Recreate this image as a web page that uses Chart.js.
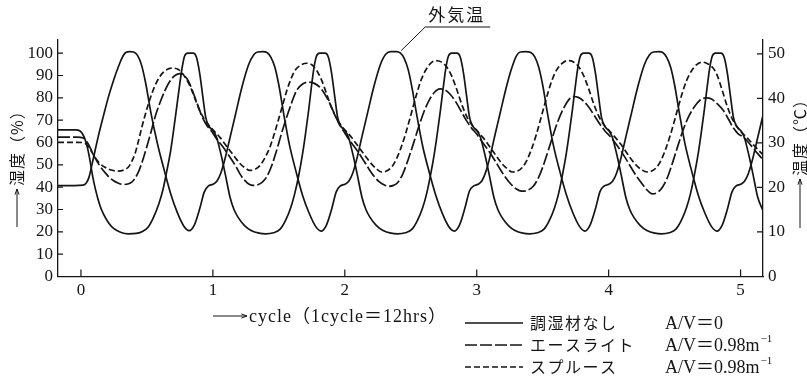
<!DOCTYPE html>
<html lang="ja">
<head>
<meta charset="utf-8">
<title>調湿材の効果</title>
<script src="https://cdn.jsdelivr.net/npm/chart.js@4.4.1/dist/chart.umd.min.js"></script>
<style>
  html, body { margin: 0; padding: 0; background: #fff; }
  #contenedor { width: 807px; height: 382px; }
</style>
</head>
<body>
<div id="contenedor"><canvas id="grafico" width="807" height="382"></canvas></div>
<script>
// Datos: [ciclo, valor]
// 外気温 (eje derecho, ℃)
const tempExterior = [
  [-0.174, 20.4], [-0.05, 20.4], [0.017, 20.5], [0.04, 21.0], [0.06, 22.2], [0.085, 25.3], [0.13, 31.3], [0.17, 36.0],
  [0.21, 40.5], [0.25, 44.3], [0.28, 46.8], [0.31, 49.0], [0.34, 50.3], [0.37, 50.5], [0.40, 50.4], [0.43, 49.6],
  [0.46, 47.4], [0.49, 43.5], [0.53, 36.8], [0.58, 29.8], [0.63, 24.0], [0.68, 18.6], [0.73, 14.4], [0.78, 11.3],
  [0.82, 10.3], [0.86, 11.6], [0.90, 15.2], [0.935, 19.0], [0.965, 20.3], [1.00, 20.7],
  [1.03, 21.4], [1.06, 23.2], [1.09, 26.2], [1.13, 31.2], [1.17, 36.2], [1.22, 42.5], [1.27, 47.5], [1.31, 49.8],
  [1.34, 50.4], [1.38, 50.5], [1.41, 50.3], [1.44, 49.2], [1.47, 47.0], [1.50, 43.0], [1.54, 36.0], [1.58, 29.6],
  [1.63, 23.6], [1.68, 18.2], [1.73, 14.2], [1.78, 11.2], [1.82, 10.2], [1.86, 11.5], [1.90, 15.1], [1.935, 19.0],
  [1.965, 20.3], [2.00, 20.7],
  [2.03, 21.4], [2.06, 23.2], [2.09, 26.3], [2.13, 31.4], [2.17, 36.4], [2.22, 42.6], [2.27, 47.6], [2.31, 49.9],
  [2.35, 50.5], [2.39, 50.5], [2.42, 50.2], [2.45, 49.0], [2.48, 46.5], [2.51, 42.3], [2.55, 35.5], [2.59, 29.3],
  [2.64, 23.4], [2.69, 18.2], [2.74, 14.1], [2.79, 11.1], [2.83, 10.2], [2.87, 11.6], [2.91, 15.3], [2.945, 19.2],
  [2.975, 20.3], [3.01, 20.7],
  [3.04, 21.5], [3.07, 23.6], [3.10, 26.8], [3.14, 32.0], [3.18, 37.0], [3.22, 42.0], [3.26, 46.3], [3.30, 49.5],
  [3.33, 50.4], [3.37, 50.5], [3.41, 50.3], [3.44, 49.3], [3.47, 47.0], [3.50, 43.0], [3.54, 36.0], [3.58, 29.6],
  [3.63, 23.6], [3.68, 18.3], [3.73, 14.2], [3.78, 11.2], [3.82, 10.2], [3.86, 11.6], [3.90, 15.2], [3.935, 19.1],
  [3.965, 20.3], [4.00, 20.7],
  [4.03, 21.4], [4.06, 23.2], [4.09, 26.2], [4.13, 31.3], [4.17, 36.3], [4.22, 42.5], [4.27, 47.5], [4.31, 49.8],
  [4.34, 50.4], [4.38, 50.5], [4.41, 50.3], [4.44, 49.2], [4.47, 47.0], [4.50, 43.0], [4.54, 36.0], [4.58, 29.6],
  [4.63, 23.6], [4.68, 18.2], [4.73, 14.2], [4.78, 11.2], [4.82, 10.2], [4.86, 11.5], [4.90, 15.1], [4.935, 19.0],
  [4.965, 20.3], [5.00, 20.7],
  [5.03, 21.4], [5.06, 23.2], [5.09, 26.2], [5.13, 31.2], [5.17, 36.2]
];

// 調湿材なし (humedad %, eje izquierdo)
const humedadSin = [
  [-0.174, 65.7], [-0.04, 65.7], [-0.01, 65.3], [0.01, 64.0], [0.03, 61.5], [0.05, 57.5], [0.07, 51.5], [0.09, 44.5],
  [0.11, 39.0], [0.14, 32.5], [0.17, 28.0], [0.21, 24.0], [0.25, 21.4], [0.30, 19.8], [0.36, 19.1], [0.42, 19.3],
  [0.47, 20.3], [0.51, 22.2], [0.55, 26.5], [0.59, 32.5], [0.62, 38.5], [0.65, 47.0], [0.68, 56.4], [0.70, 64.5],
  [0.725, 75.5], [0.745, 84.5], [0.765, 92.8], [0.785, 98.6], [0.81, 100], [0.85, 100], [0.875, 98.3], [0.90, 91.0],
  [0.925, 80.0], [0.945, 71.5], [0.965, 67.8], [0.985, 66.2], [1.005, 65.0], [1.03, 62.0], [1.05, 57.5], [1.07, 52.5],
  [1.095, 45.5], [1.13, 35.5], [1.16, 30.0], [1.19, 26.6], [1.24, 22.8], [1.29, 20.6], [1.35, 19.4], [1.40, 19.1],
  [1.46, 19.6], [1.51, 21.2], [1.55, 25.0], [1.59, 30.8], [1.62, 37.0], [1.65, 45.0], [1.68, 55.0], [1.70, 63.0],
  [1.725, 74.0], [1.745, 84.0], [1.765, 93.0], [1.785, 98.6], [1.81, 100], [1.85, 100], [1.875, 98.3], [1.90, 91.0],
  [1.925, 80.0], [1.945, 71.5], [1.965, 67.8], [1.985, 66.2], [2.005, 65.0], [2.03, 62.0], [2.05, 57.5], [2.07, 52.5],
  [2.095, 45.5], [2.13, 35.5], [2.16, 30.0], [2.19, 26.6], [2.24, 22.8], [2.29, 20.6], [2.35, 19.4], [2.40, 19.1],
  [2.46, 19.6], [2.51, 21.2], [2.55, 25.0], [2.59, 30.8], [2.62, 37.0], [2.65, 45.5], [2.68, 55.5], [2.70, 63.5],
  [2.725, 74.5], [2.745, 84.0], [2.765, 93.0], [2.785, 98.6], [2.81, 100], [2.85, 100], [2.875, 98.3], [2.90, 91.0],
  [2.925, 80.0], [2.945, 71.5], [2.965, 67.8], [2.985, 66.2], [3.005, 65.0], [3.03, 62.0], [3.05, 57.5], [3.07, 52.5],
  [3.095, 45.5], [3.13, 35.5], [3.16, 30.0], [3.19, 26.6], [3.24, 22.8], [3.29, 20.6], [3.35, 19.4], [3.40, 19.1],
  [3.46, 19.6], [3.51, 21.2], [3.55, 25.0], [3.59, 30.8], [3.62, 37.0], [3.65, 45.5], [3.68, 55.5], [3.70, 63.5],
  [3.725, 74.5], [3.745, 84.0], [3.765, 93.0], [3.785, 98.6], [3.81, 100], [3.85, 100], [3.875, 98.3], [3.90, 91.0],
  [3.925, 80.0], [3.945, 71.5], [3.965, 67.8], [3.985, 66.2], [4.005, 65.0], [4.03, 62.0], [4.05, 57.5], [4.07, 52.5],
  [4.095, 45.5], [4.13, 35.5], [4.16, 30.0], [4.19, 26.6], [4.24, 22.8], [4.29, 20.6], [4.35, 19.4], [4.40, 19.1],
  [4.46, 19.6], [4.51, 21.2], [4.55, 25.0], [4.59, 30.8], [4.62, 37.0], [4.65, 45.5], [4.68, 55.5], [4.70, 63.5],
  [4.725, 74.5], [4.745, 84.0], [4.765, 93.0], [4.785, 98.6], [4.81, 100], [4.85, 100], [4.875, 98.3], [4.90, 91.0],
  [4.925, 80.0], [4.945, 71.5], [4.965, 67.8], [4.985, 66.2], [5.005, 65.0], [5.03, 62.0], [5.05, 57.5], [5.07, 52.5],
  [5.095, 45.5], [5.13, 35.5], [5.17, 29.5]
];

// エースライト A/V=0.98
const humedadAce = [
  [-0.174, 62.4], [-0.03, 62.4], [0.017, 62.0], [0.055, 59.4], [0.08, 56.4], [0.106, 53.2], [0.14, 49.8], [0.182, 46.6],
  [0.215, 44.4], [0.245, 43.0], [0.28, 41.9], [0.32, 41.2], [0.355, 41.4], [0.385, 42.3], [0.41, 44.0], [0.435, 46.7],
  [0.465, 51.5], [0.498, 57.9], [0.53, 64.5], [0.561, 71.3], [0.60, 78.0], [0.637, 83.3], [0.675, 87.5], [0.713, 90.0],
  [0.75, 90.8], [0.785, 89.8], [0.815, 87.5], [0.84, 84.0], [0.865, 80.0], [0.89, 76.0], [0.915, 72.0], [0.95, 68.0],
  [0.99, 65.0], [1.03, 61.5], [1.07, 58.5], [1.10, 56.0], [1.14, 52.5], [1.18, 48.7], [1.21, 45.5], [1.245, 42.8],
  [1.275, 41.3], [1.305, 40.8], [1.34, 41.1], [1.375, 42.3], [1.407, 44.5], [1.445, 49.5], [1.483, 56.4], [1.52, 64.0],
  [1.559, 71.3], [1.60, 78.3], [1.635, 83.3], [1.68, 86.2], [1.723, 87.0], [1.765, 86.6], [1.81, 84.8], [1.85, 81.5],
  [1.888, 77.3], [1.92, 73.0], [1.955, 68.5], [1.99, 65.2],
  [2.03, 61.5], [2.07, 58.3], [2.10, 55.8], [2.14, 52.2], [2.18, 48.4], [2.22, 45.0], [2.26, 42.5], [2.30, 41.0],
  [2.335, 40.4], [2.37, 40.8], [2.40, 42.0], [2.44, 46.0], [2.48, 52.3], [2.52, 59.5], [2.56, 67.0], [2.60, 73.8],
  [2.64, 79.0], [2.68, 82.5], [2.72, 84.0], [2.76, 83.5], [2.80, 81.5], [2.84, 78.3], [2.88, 74.2], [2.92, 70.0],
  [2.96, 66.5], [3.00, 63.8],
  [3.03, 61.2], [3.07, 58.0], [3.10, 55.4], [3.14, 51.7], [3.18, 47.8], [3.22, 44.2], [3.26, 41.3], [3.30, 39.2],
  [3.34, 38.2], [3.38, 38.5], [3.43, 40.5], [3.47, 44.5], [3.50, 48.9], [3.54, 56.0], [3.58, 63.5], [3.62, 70.2],
  [3.66, 75.5], [3.70, 79.3], [3.73, 80.6], [3.77, 80.2], [3.81, 78.5], [3.85, 75.8], [3.89, 72.2], [3.93, 68.5],
  [3.97, 65.3], [4.01, 62.8],
  [4.05, 59.8], [4.09, 56.5], [4.13, 52.8], [4.17, 48.8], [4.21, 45.0], [4.25, 41.8], [4.29, 38.8], [4.33, 37.0],
  [4.37, 37.6], [4.41, 40.2], [4.45, 45.0], [4.49, 52.0], [4.53, 59.5], [4.57, 66.5], [4.61, 72.0], [4.65, 76.0],
  [4.69, 78.8], [4.74, 80.0], [4.78, 79.5], [4.82, 77.5], [4.87, 74.3], [4.91, 70.3], [4.94, 67.0], [4.98, 64.0],
  [5.02, 62.4], [5.06, 60.0], [5.09, 57.9], [5.13, 55.0], [5.17, 52.4]
];

// スプルース A/V=0.98
const humedadSpr = [
  [-0.174, 60.1], [-0.03, 60.1], [0.017, 59.9], [0.05, 58.6], [0.08, 56.0], [0.106, 53.4], [0.14, 50.8], [0.182, 48.9],
  [0.23, 47.7], [0.28, 47.2], [0.33, 47.8], [0.36, 49.0], [0.385, 51.5], [0.41, 55.0], [0.435, 60.5], [0.46, 66.5],
  [0.485, 72.0], [0.51, 77.0], [0.535, 81.5], [0.56, 85.3], [0.59, 88.8], [0.625, 91.5], [0.66, 92.9], [0.70, 93.3],
  [0.735, 92.8], [0.765, 91.3], [0.80, 88.2], [0.83, 84.8], [0.865, 79.5], [0.90, 74.3], [0.94, 70.0], [0.98, 67.0],
  [1.02, 64.5], [1.055, 62.2], [1.09, 59.4], [1.13, 56.3], [1.17, 53.2], [1.205, 50.6], [1.24, 48.8], [1.28, 47.5],
  [1.32, 48.0], [1.357, 49.7], [1.395, 53.2], [1.433, 58.0], [1.465, 63.8], [1.496, 70.0], [1.53, 77.0], [1.56, 83.2],
  [1.59, 88.2], [1.622, 92.2], [1.665, 94.6], [1.71, 95.5], [1.75, 94.8], [1.787, 92.3], [1.825, 87.8], [1.862, 81.8],
  [1.90, 75.5], [1.94, 70.5], [1.98, 67.0],
  [2.02, 64.4], [2.055, 62.0], [2.09, 59.2], [2.13, 56.0], [2.17, 52.8], [2.205, 50.2], [2.24, 48.2], [2.28, 46.8],
  [2.32, 47.3], [2.355, 49.0], [2.39, 52.5], [2.425, 57.5], [2.46, 63.8], [2.49, 70.0], [2.52, 76.5], [2.55, 82.8],
  [2.58, 88.2], [2.615, 92.6], [2.65, 95.4], [2.69, 96.7], [2.73, 96.1], [2.77, 94.0], [2.81, 89.8], [2.85, 83.5],
  [2.89, 76.5], [2.93, 71.0], [2.97, 67.4],
  [3.01, 64.8], [3.045, 62.4], [3.08, 59.7], [3.12, 56.3], [3.16, 53.0], [3.195, 50.3], [3.23, 48.3], [3.27, 46.8],
  [3.31, 47.2], [3.345, 48.8], [3.38, 52.0], [3.415, 57.0], [3.45, 63.2], [3.48, 69.5], [3.51, 76.0], [3.54, 82.3],
  [3.57, 87.8], [3.605, 92.4], [3.645, 95.3], [3.69, 96.7], [3.73, 96.2], [3.77, 94.1], [3.81, 90.0], [3.85, 83.8],
  [3.89, 76.8], [3.93, 71.2], [3.97, 67.5],
  [4.01, 64.9], [4.05, 62.3], [4.09, 59.4], [4.13, 56.0], [4.17, 52.6], [4.21, 49.8], [4.25, 47.8], [4.29, 46.8],
  [4.33, 47.3], [4.365, 49.0], [4.40, 52.4], [4.435, 57.5], [4.47, 63.8], [4.50, 70.0], [4.53, 76.5], [4.56, 82.5],
  [4.59, 87.6], [4.625, 91.8], [4.665, 94.8], [4.71, 96.0], [4.75, 95.3], [4.79, 93.5], [4.82, 90.5], [4.86, 83.5],
  [4.90, 76.0], [4.94, 70.2], [4.98, 66.5], [5.02, 63.8], [5.06, 61.4], [5.10, 58.8], [5.14, 56.3], [5.17, 54.5]
];

// Marcas de los ejes
const marcasCiclo = [0, 1, 2, 3, 4, 5];
const marcasHumedad = [0, 10, 20, 30, 40, 50, 60, 70, 80, 90, 100];
const marcasTemp = [0, 10, 20, 30, 40, 50];

// Textos
const nombresSerie = ['調湿材なし', 'エースライト', 'スプルース'];
const relacionesAV = ['A/V＝0', 'A/V＝0.98m', 'A/V＝0.98m'];
const tituloHumedad = '湿度（%）';
const tituloTemp = '温度（℃）';
const tituloCiclo = 'cycle（1cycle＝12hrs）';
const etiquetaTemp = '外気温';

const NEGRO = '#151515';
const FUENTE_NUM = "'Liberation Serif', 'Noto Sans CJK JP', serif";
const FUENTE_JP = "'Noto Sans CJK JP', sans-serif";
const trazos = [[], [12, 3], [6, 3]];

function aPuntos(serie) {
    return serie.map(p => ({ x: p[0], y: p[1] }));
}

// Flecha con cabeza abierta
function flecha(ctx, x1, y1, x2, y2) {
    const ang = Math.atan2(y2 - y1, x2 - x1);
    ctx.beginPath();
    ctx.moveTo(x1, y1);
    ctx.lineTo(x2, y2);
    ctx.moveTo(x2, y2);
    ctx.lineTo(x2 - 6 * Math.cos(ang - 0.35), y2 - 6 * Math.sin(ang - 0.35));
    ctx.moveTo(x2, y2);
    ctx.lineTo(x2 - 6 * Math.cos(ang + 0.35), y2 - 6 * Math.sin(ang + 0.35));
    ctx.stroke();
}

// Texto vertical (de abajo hacia arriba)
function textoVertical(ctx, texto, x, yInicio) {
    ctx.save();
    ctx.translate(x, yInicio);
    ctx.rotate(-Math.PI / 2);
    ctx.textAlign = 'left';
    ctx.textBaseline = 'middle';
    ctx.fillText(texto, 0, 0);
    ctx.restore();
}

// Marcas hacia dentro, titulos, leyenda y rotulo 外気温
const decoraciones = {
    id: 'decoraciones',
    afterDraw(chart) {
        const ctx = chart.ctx;
        const { x, y, y1 } = chart.scales;
        const area = chart.chartArea;
        ctx.save();
        ctx.strokeStyle = NEGRO;
        ctx.fillStyle = NEGRO;
        ctx.lineWidth = 1.2;

        ctx.beginPath();
        marcasCiclo.forEach(v => {
            const px = x.getPixelForValue(v);
            ctx.moveTo(px, area.bottom);
            ctx.lineTo(px, area.bottom - 7);
        });
        marcasHumedad.forEach(v => {
            const py = y.getPixelForValue(v);
            ctx.moveTo(area.left, py);
            ctx.lineTo(area.left + 5, py);
        });
        marcasTemp.forEach(v => {
            const py = y1.getPixelForValue(v);
            ctx.moveTo(area.right, py);
            ctx.lineTo(area.right - 6, py);
        });
        ctx.stroke();

        // Titulos de ejes con flecha
        ctx.lineWidth = 1;
        flecha(ctx, 17, 227, 17, 189);
        flecha(ctx, 800, 228, 800, 179);
        flecha(ctx, 213, 316, 247, 316);
        ctx.font = '16px ' + FUENTE_JP;
        ctx.letterSpacing = '1px';
        textoVertical(ctx, tituloHumedad, 17, 186);
        textoVertical(ctx, tituloTemp, 800, 176);
        ctx.font = '18px ' + FUENTE_NUM;
        ctx.textAlign = 'left';
        ctx.textBaseline = 'middle';
        ctx.fillText(tituloCiclo, 249, 317);
        ctx.letterSpacing = '0px';

        // Rotulo 外気温 con linea guia
        const pico = { px: x.getPixelForValue(2.42), py: y1.getPixelForValue(50.5) };
        ctx.lineWidth = 1;
        ctx.beginPath();
        ctx.moveTo(pico.px + 1, pico.py - 1);
        ctx.lineTo(pico.px + 25, 27);
        ctx.lineTo(pico.px + 90, 27);
        ctx.stroke();
        ctx.font = '17px ' + FUENTE_JP;
        ctx.letterSpacing = '2px';
        ctx.fillText(etiquetaTemp, pico.px + 28, 15);

        // Leyenda
        const filas = [323, 345, 367];
        filas.forEach((fy, i) => {
            ctx.lineWidth = 1.6;
            ctx.setLineDash(trazos[i]);
            ctx.beginPath();
            ctx.moveTo(465, fy);
            ctx.lineTo(523, fy);
            ctx.stroke();
            ctx.setLineDash([]);
            ctx.font = '16px ' + FUENTE_JP;
            ctx.letterSpacing = '1.5px';
            ctx.fillText(nombresSerie[i], 530, fy);
            ctx.letterSpacing = '0px';
            ctx.font = '18px ' + FUENTE_NUM;
            ctx.fillText(relacionesAV[i], 665, fy + 1);
            if (i > 0) {
                const ancho = ctx.measureText(relacionesAV[i]).width;
                ctx.font = '11px ' + FUENTE_NUM;
                ctx.fillText('−1', 665 + ancho + 1, fy - 6);
            }
        });
        ctx.restore();
    }
};

function crearGrafico() {
    const ejeComun = {
        grid: { display: true, drawOnChartArea: false, drawTicks: false },
        border: { display: true, color: NEGRO, width: 1.3 },
        ticks: { color: NEGRO, font: { family: FUENTE_NUM, size: 17 }, autoSkip: false, maxRotation: 0 }
    };
    new Chart(document.getElementById('grafico'), {
        type: 'line',
        data: {
            datasets: [
                { label: etiquetaTemp, data: aPuntos(tempExterior), yAxisID: 'y1', borderDash: trazos[0] },
                { label: nombresSerie[0], data: aPuntos(humedadSin), yAxisID: 'y', borderDash: trazos[0] },
                { label: nombresSerie[1], data: aPuntos(humedadAce), yAxisID: 'y', borderDash: trazos[1] },
                { label: nombresSerie[2], data: aPuntos(humedadSpr), yAxisID: 'y', borderDash: trazos[2] }
            ]
        },
        options: {
            responsive: false,
            animation: false,
            layout: { padding: { top: 40, left: 0, right: 0, bottom: 0 } },
            plugins: { legend: { display: false }, tooltip: { enabled: false } },
            elements: {
                point: { radius: 0 },
                line: { borderWidth: 1.7, borderColor: NEGRO, cubicInterpolationMode: 'monotone', fill: false }
            },
            scales: {
                x: {
                    ...ejeComun,
                    type: 'linear',
                    min: -0.174,
                    max: 5.17,
                    afterBuildTicks: s => { s.ticks = marcasCiclo.map(v => ({ value: v })); },
                    afterFit: s => { s.height = 105.5; },
                    ticks: { ...ejeComun.ticks, padding: 4 }
                },
                y: {
                    ...ejeComun,
                    position: 'left',
                    min: 0,
                    max: 105.9,
                    afterBuildTicks: s => { s.ticks = marcasHumedad.map(v => ({ value: v })); },
                    afterFit: s => { s.width = 58; },
                    ticks: { ...ejeComun.ticks, padding: 5 }
                },
                y1: {
                    ...ejeComun,
                    position: 'right',
                    min: 0,
                    max: 53.1,
                    afterBuildTicks: s => { s.ticks = marcasTemp.map(v => ({ value: v })); },
                    afterFit: s => { s.width = 44; },
                    ticks: { ...ejeComun.ticks, padding: 5 }
                }
            }
        },
        plugins: [decoraciones]
    });
}

crearGrafico();
</script>
</body>
</html>
